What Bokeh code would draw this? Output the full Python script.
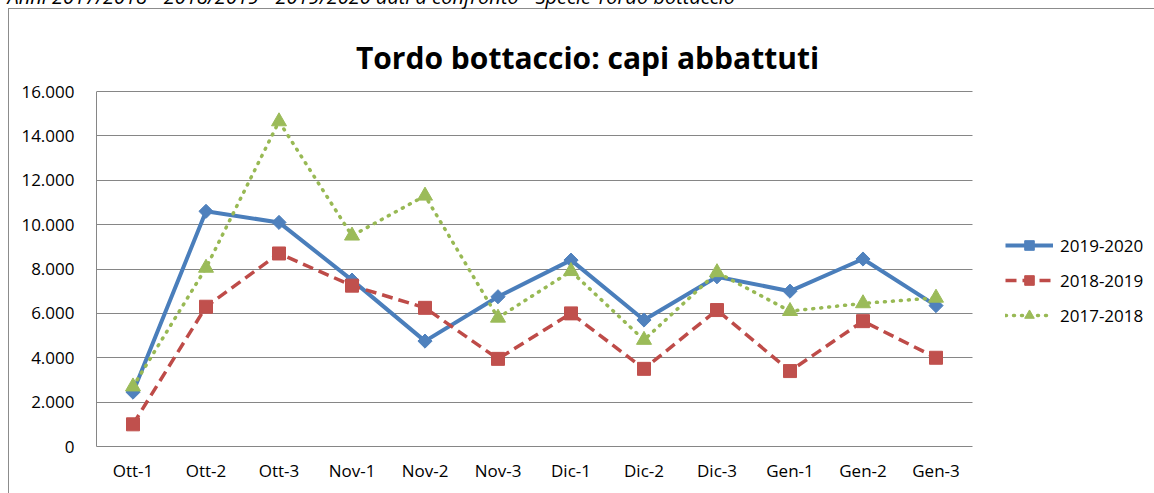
from bokeh.plotting import figure
from bokeh.models import (Range1d, FixedTicker, Legend, LegendItem, Label)
from bokeh.embed import file_html
from bokeh.resources import INLINE

# ---------------- data ----------------
categories = ["Ott-1", "Ott-2", "Ott-3", "Nov-1", "Nov-2", "Nov-3",
              "Dic-1", "Dic-2", "Dic-3", "Gen-1", "Gen-2", "Gen-3"]
series_names = ["2019-2020", "2018-2019", "2017-2018"]
v_2019_2020 = [2450, 10600, 10100, 7500, 4750, 6750, 8400, 5700, 7650, 7000, 8450, 6350]
v_2018_2019 = [1000, 6300, 8700, 7250, 6250, 3950, 6000, 3500, 6150, 3400, 5650, 4000]
v_2017_2018 = [2700, 8050, 14650, 9500, 11300, 5800, 7900, 4800, 7850, 6100, 6450, 6700]
y_ticks = [0, 2000, 4000, 6000, 8000, 10000, 12000, 14000, 16000]
y_tick_labels = ["0", "2.000", "4.000", "6.000", "8.000", "10.000", "12.000", "14.000", "16.000"]
title_text = "Tordo bottaccio: capi abbattuti"
caption_text = "Anni 2017/2018 - 2018/2019 - 2019/2020 dati a confronto - Specie Tordo bottaccio"

# category slots on a numeric axis: slot i is centred at i + 0.5
x_pos = [i + 0.5 for i in range(len(categories))]
N = len(categories)

# ---------------- layout constants (page pixels) ----------------
PAGE_W, PAGE_H = 1154, 493
SHIFT = 20                     # canvas shifted up; caption is clipped by window top
FL, FR = 96, 972               # left edge of plot area / end of category slots
FTOP = 9                       # frame top (area above 16.000 holds the title)
F16, FB = 91, 446              # y of 16.000 gridline and of 0
YMAX = 16000
FONT = "Open Sans"
GRID = "#868686"
BORDER = "#8C8C8C"

W, H = PAGE_W, PAGE_H + SHIFT
slot = (FR - FL) / N
x_end = (W - FL) / slot
y_top = YMAX * (FB - FTOP) / (FB - F16)

def data_y(py):
    return (FB - py) * YMAX / (FB - F16)

def data_x(px):
    return (px - FL) / slot

border_css = f"linear-gradient({BORDER},{BORDER}), linear-gradient({BORDER},{BORDER})"
p = figure(width=W, height=H,
           x_range=Range1d(0, x_end), y_range=Range1d(0, y_top),
           output_backend="svg", toolbar_location=None,
           min_border_left=FL, min_border_right=0,
           min_border_top=FTOP + SHIFT, min_border_bottom=H - (FB + SHIFT),
           background_fill_color=None, border_fill_color=None,
           outline_line_color=None,
           styles={"margin-top": f"-{SHIFT}px",
                   "background-image": border_css,
                   "background-repeat": "no-repeat",
                   "background-size": "1px 100%, 100% 1px",
                   "background-position": f"8px {8 + SHIFT}px, 8px {8 + SHIFT}px"})

# caption (clipped by the top of the window, as in the reference)
p.title.text = caption_text
p.title.text_font = FONT
p.title.text_font_style = "italic"
p.title.text_font_size = "20px"
p.title.text_color = "#000000"
p.title.align = "left"
p.title.offset = 7 - FL
p.title.standoff = 0

# chart title inside the (tall) frame
p.add_layout(Label(x=data_x(587), y=data_y(57), text=title_text,
                   text_align="center", text_baseline="alphabetic",
                   text_font=FONT, text_font_style="bold", text_font_size="30px",
                   text_color="#000000"))

# axes
for ax in (p.xaxis, p.yaxis):
    ax.axis_line_color = GRID
    ax.axis_line_width = 1
    ax.major_tick_line_color = None
    ax.minor_tick_line_color = None
    ax.major_label_text_font = FONT
    ax.major_label_text_font_size = "17px"
    ax.major_label_text_color = "#000000"
p.yaxis.ticker = FixedTicker(ticks=y_ticks)
p.yaxis.bounds = (0, YMAX)
p.yaxis.major_label_overrides = {t: l for t, l in zip(y_ticks, y_tick_labels)}
p.yaxis.major_label_standoff = 16
p.xaxis.ticker = FixedTicker(ticks=x_pos)
p.xaxis.bounds = (0, N)
p.xaxis.major_label_overrides = {t: c for t, c in zip(x_pos, categories)}
p.xaxis.major_label_standoff = 6
p.xgrid.grid_line_color = None

ygrid = p.ygrid[0]
if "cross_bounds" in ygrid.properties():
    ygrid.grid_line_color = GRID
    ygrid.grid_line_width = 1
    ygrid.cross_bounds = (0, N)
else:
    ygrid.grid_line_color = None
    p.segment(x0=[0] * len(y_ticks), x1=[N] * len(y_ticks), y0=y_ticks, y1=y_ticks,
              line_color=GRID, line_width=1, level="underlay")

# series (drawn in Excel order)
blue_l, blue_m = "#4A7EBB", "#4F81BD"
red_l, red_m = "#BE4B48", "#C0504D"
green_l, green_m = "#98B954", "#9BBB59"

r1l = p.line(x_pos, v_2019_2020, line_color=blue_l, line_width=4, line_join="round")
r1m = p.scatter(x_pos, v_2019_2020, marker="square", angle=0.785398, size=10,
                fill_color=blue_m, line_color=blue_m)
r2l = p.line(x_pos, v_2018_2019, line_color=red_l, line_width=3.5, line_dash="11 6")
r2m = p.scatter(x_pos, v_2018_2019, marker="square", size=13,
                fill_color=red_m, line_color=red_m)
r3l = p.line(x_pos, v_2017_2018, line_color=green_l, line_width=3.5,
             line_dash="1 7", line_cap="round")
r3m = p.scatter(x_pos, v_2017_2018, marker="triangle", size=15,
                fill_color=green_m, line_color=green_m)

# legend inside the wide frame, to the right of the category slots
legend = Legend(items=[LegendItem(label=series_names[0], renderers=[r1l, r1m]),
                       LegendItem(label=series_names[1], renderers=[r2l, r2m]),
                       LegendItem(label=series_names[2], renderers=[r3l, r3m])],
                location=(1005 - FL, FB - 327), orientation="vertical",
                border_line_color=None, background_fill_alpha=0,
                padding=0, margin=0, spacing=11, glyph_width=48, glyph_height=24,
                label_height=24, label_standoff=7, label_text_font=FONT,
                label_text_font_size="17px", label_text_color="#000000")
p.add_layout(legend, "center")

open("out.html", "w").write(file_html(p, INLINE))
